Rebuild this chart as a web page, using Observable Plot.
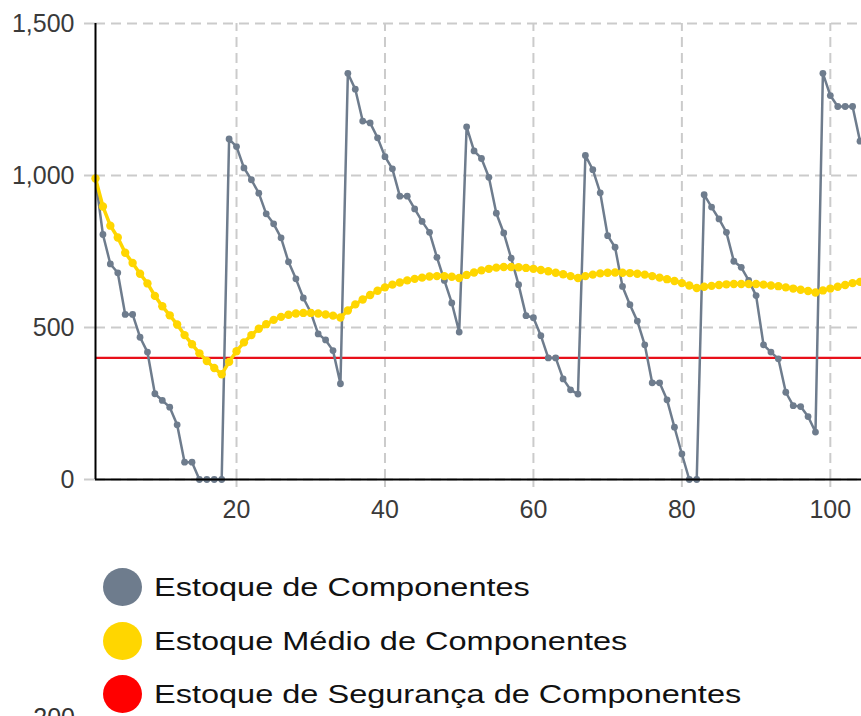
<!DOCTYPE html>
<html>
<head>
<meta charset="utf-8">
<script src="https://cdn.jsdelivr.net/npm/d3@7"></script>
<script src="https://cdn.jsdelivr.net/npm/@observablehq/plot@0.6"></script>
<style>
  html, body { margin: 0; padding: 0; background: #fff; overflow: hidden; }
  #wrap { position: relative; width: 861px; height: 716px; font-family: "Liberation Sans", Arial, sans-serif; }
  #chart { position: absolute; left: 0; top: 0; }
  .lg { position: absolute; left: 0; width: 861px; height: 40px; }
  .lg .dot { position: absolute; left: 103px; top: 1px; width: 39px; height: 38px; border-radius: 50%; }
  .lg .txt { position: absolute; left: 154px; top: 7px; font-size: 26px; line-height: 26px; color: #111; white-space: nowrap; transform: scaleX(1.25); transform-origin: 0 50%; }
  #cut { position: absolute; right: 786px; top: 705px; font-size: 25px; line-height: 25px; color: #333; }
</style>
</head>
<body>
<div id="wrap">
  <div id="chart"></div>
  <div id="legend"></div>
  <div id="cut"></div>
</div>
<script>
// Estoque de Componentes (periods 1..104)
const estoque = [
  990, 806, 709, 680, 543, 543, 468, 419, 282, 260,
  238, 180, 57, 57, 0, 0, 0, 0, 1120, 1095,
  1025, 986, 942, 874, 841, 795, 716, 660, 597, 550,
  479, 459, 424, 315, 1336, 1284, 1179, 1173, 1124, 1062,
  1022, 932, 932, 890, 849, 813, 731, 655, 581, 485,
  1160, 1081, 1056, 994, 876, 811, 728, 641, 539, 532,
  473, 400, 400, 331, 295, 281, 1066, 1019, 943, 802,
  764, 635, 575, 521, 443, 318, 318, 262, 172, 84,
  0, 0, 937, 896, 857, 813, 718, 698, 655, 605,
  443, 419, 397, 287, 243, 240, 207, 156, 1336, 1263,
  1227, 1227, 1227, 1113
];
// Estoque Médio de Componentes
const estoqueMedio = [
  990, 898, 835, 796, 746, 712, 677, 645, 604, 570,
  540, 510, 475, 445, 415, 390, 367, 346, 387, 422,
  451, 475, 496, 511, 525, 535, 542, 546, 548, 548,
  546, 543, 539, 533, 556, 576, 592, 607, 621, 632,
  641, 648, 655, 660, 664, 668, 669, 669, 667, 663,
  673, 681, 688, 693, 697, 699, 699, 698, 696, 693,
  689, 685, 680, 675, 669, 663, 669, 674, 678, 680,
  681, 680, 679, 677, 674, 669, 664, 659, 653, 646,
  638, 630, 634, 637, 640, 642, 643, 643, 643, 643,
  641, 638, 636, 632, 628, 624, 620, 615, 622, 628,
  634, 640, 646, 650
];
// Estoque de Segurança de Componentes
const estoqueSeguranca = [400];
const xTicks = [20, 40, 60, 80, 100];
const yTicks = [0, 500, 1000, 1500];
const seriesNames = ["Estoque de Componentes", "Estoque Médio de Componentes", "Estoque de Segurança de Componentes"];
const seriesColors = ["#6e7c8d", "#ffd600", "#ff0000"];
const cutLabel = "200";

const rows = estoque.map((v, i) => ({ t: i + 1, estoque: v, medio: estoqueMedio[i] }));
const gridColor = "#cbcbcb";

const chart = Plot.plot({
  width: 861,
  height: 540,
  marginLeft: 95,
  marginRight: 0,
  marginTop: 23,
  marginBottom: 61,
  x: { domain: [1, 104.2], label: null },
  y: { domain: [0, 1500], label: null },
  style: { fontFamily: "'Liberation Sans', Arial, sans-serif", fontSize: "25px", color: "#3a3a3a", background: "#fff", overflow: "visible" },
  marks: [
    Plot.ruleX(xTicks, { y1: 0, y2: 1500, stroke: gridColor, strokeWidth: 2, strokeDasharray: "10,6" }),
    Plot.ruleY(yTicks, { stroke: gridColor, strokeWidth: 2, strokeDasharray: "10,6" }),
    Plot.axisX({ ticks: xTicks, tickSize: 8, tickPadding: 13, stroke: gridColor, strokeWidth: 2, tickFormat: d => String(d), label: null }),
    Plot.axisY({ ticks: yTicks, tickSize: 11, tickPadding: 10, stroke: gridColor, strokeWidth: 2, tickFormat: d3.format(","), label: null }),
    Plot.ruleY(estoqueSeguranca, { stroke: "#e8101a", strokeWidth: 2.2 }),
    Plot.line(rows, { x: "t", y: "estoque", stroke: seriesColors[0], strokeWidth: 2.5 }),
    Plot.dot(rows, { x: "t", y: "estoque", r: 3.4, fill: seriesColors[0] }),
    Plot.line(rows, { x: "t", y: "medio", stroke: seriesColors[1], strokeWidth: 3.5 }),
    Plot.dot(rows, { x: "t", y: "medio", r: 4.2, fill: seriesColors[1] }),
    Plot.ruleX([1], { y1: 0, y2: 1500, stroke: "#000", strokeWidth: 2 }),
    Plot.ruleY([0], { stroke: "#000", strokeWidth: 2 })
  ]
});
document.getElementById("chart").appendChild(chart);

const legend = document.getElementById("legend");
const rowTops = [567, 620.5, 674];
seriesNames.forEach((name, i) => {
  const row = document.createElement("div");
  row.className = "lg";
  row.style.top = rowTops[i] + "px";
  const dot = document.createElement("div");
  dot.className = "dot";
  dot.style.background = seriesColors[i];
  const txt = document.createElement("div");
  txt.className = "txt";
  txt.textContent = name;
  row.appendChild(dot);
  row.appendChild(txt);
  legend.appendChild(row);
});
document.getElementById("cut").textContent = cutLabel;
</script>
</body>
</html>
